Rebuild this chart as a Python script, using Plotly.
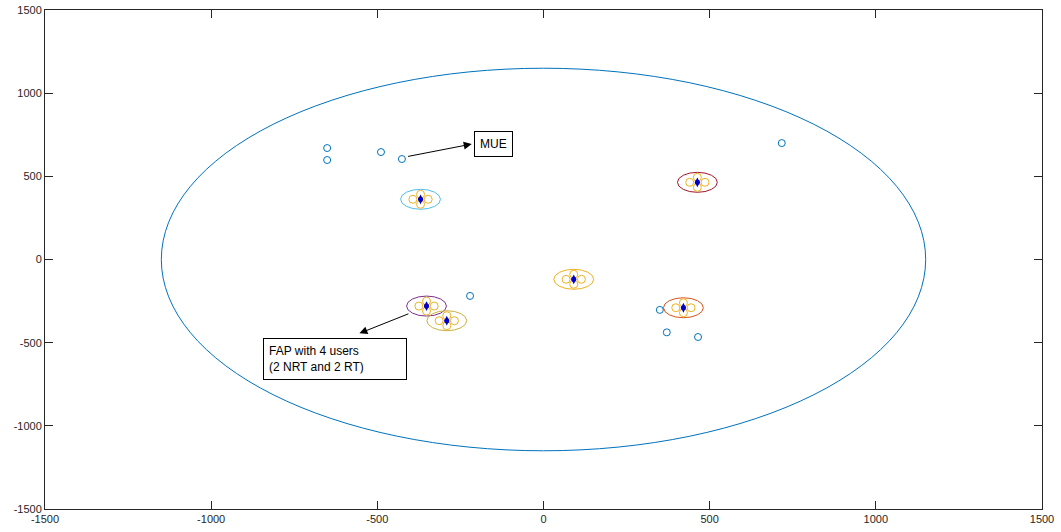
import numpy as np
import plotly.graph_objects as go

# ---- data ----
macro_radius = 1150
fap_radius = 60

mue_x = [-651, -651, -489, -426, 717, -221, 350, 371, 465]
mue_y = [670, 598, 646, 604, 700, -219, -303, -438, -466]

fap_x = [-370, 463, 91, -352, -291, 421]
fap_y = [362, 464, -119, -280, -368, -290]

user_dx = [-23, 23, 0, 0]
user_dy = [0, 0, 30, -30]

ticks = [-1500, -1000, -500, 0, 500, 1000, 1500]

# ---- styles ----
fap_colors = ["#4DBEEE", "#A2142F", "#EDB120", "#7E2F8E", "#C9B23A", "#D95319"]
mue_color = "#0072BD"
user_color = "#EDB120"
axis_color = "#262626"
font_family = "Liberation Sans, Arial, sans-serif"

fig = go.Figure()

shapes = []
shapes.append(dict(type="circle", xref="x", yref="y",
                   x0=-macro_radius, y0=-macro_radius, x1=macro_radius, y1=macro_radius,
                   line=dict(color=mue_color, width=1), layer="below"))
for cx, cy, col in zip(fap_x, fap_y, fap_colors):
    shapes.append(dict(type="circle", xref="x", yref="y",
                       x0=cx - fap_radius, y0=cy - fap_radius,
                       x1=cx + fap_radius, y1=cy + fap_radius,
                       line=dict(color=col, width=1), layer="below"))

# users of each FAP
ux, uy = [], []
for cx, cy in zip(fap_x, fap_y):
    for dx, dy in zip(user_dx, user_dy):
        ux.append(cx + dx)
        uy.append(cy + dy)

fig.add_trace(go.Scatter(x=ux, y=uy, mode="markers",
                         marker=dict(symbol="circle-open", size=8, color=user_color,
                                     line=dict(width=1)),
                         showlegend=False, hoverinfo="skip"))

fig.add_trace(go.Scatter(x=fap_x, y=fap_y, mode="markers",
                         marker=dict(symbol="diamond-tall", size=7, color="#0000CC"),
                         showlegend=False))
fig.add_trace(go.Scatter(x=fap_x, y=fap_y, mode="markers",
                         marker=dict(symbol="circle", size=5, color="#0000CC"),
                         showlegend=False, hoverinfo="skip"))

fig.add_trace(go.Scatter(x=mue_x, y=mue_y, mode="markers",
                         marker=dict(symbol="circle-open", size=7, color=mue_color,
                                     line=dict(width=1)),
                         showlegend=False))

annotations = [
    # MUE arrow
    dict(x=-216, y=694, ax=-412, ay=618, xref="x", yref="y", axref="x", ayref="y",
         text="", showarrow=True, arrowhead=2, arrowsize=1.6, arrowwidth=1,
         arrowcolor="#000000", standoff=0, startstandoff=0),
    dict(x=-150, y=694, xref="x", yref="y", text="MUE", showarrow=False,
         font=dict(family=font_family, size=12, color="#000000"),
         bordercolor="#000000", borderwidth=1, borderpad=5, bgcolor="#FFFFFF"),
    # FAP arrow
    dict(x=-554, y=-444, ax=-402, ay=-323, xref="x", yref="y", axref="x", ayref="y",
         text="", showarrow=True, arrowhead=2, arrowsize=1.6, arrowwidth=1,
         arrowcolor="#000000", standoff=0, startstandoff=0),
    dict(x=-627, y=-598, xref="x", yref="y",
         text="FAP with 4 users<br>(2 NRT and 2 RT)", showarrow=False,
         align="left", width=132,
         font=dict(family=font_family, size=12, color="#000000"),
         bordercolor="#000000", borderwidth=1, borderpad=5, bgcolor="#FFFFFF"),
]

axis_common = dict(range=[-1500, 1500], tickvals=ticks, ticktext=[str(t) for t in ticks],
                   showgrid=False, zeroline=False, showline=True, mirror="ticks",
                   linecolor=axis_color, linewidth=1, ticks="inside", ticklen=8,
                   tickcolor=axis_color, tickwidth=1, automargin=False,
                   tickfont=dict(family=font_family, size=11, color=axis_color))

fig.update_layout(
    width=1061, height=532,
    margin=dict(l=45, r=19, t=10, b=23),
    paper_bgcolor="#FFFFFF", plot_bgcolor="#FFFFFF",
    xaxis=dict(**axis_common),
    yaxis=dict(**axis_common),
    shapes=shapes, annotations=annotations,
    showlegend=False,
)

fig.write_html("out.html")
